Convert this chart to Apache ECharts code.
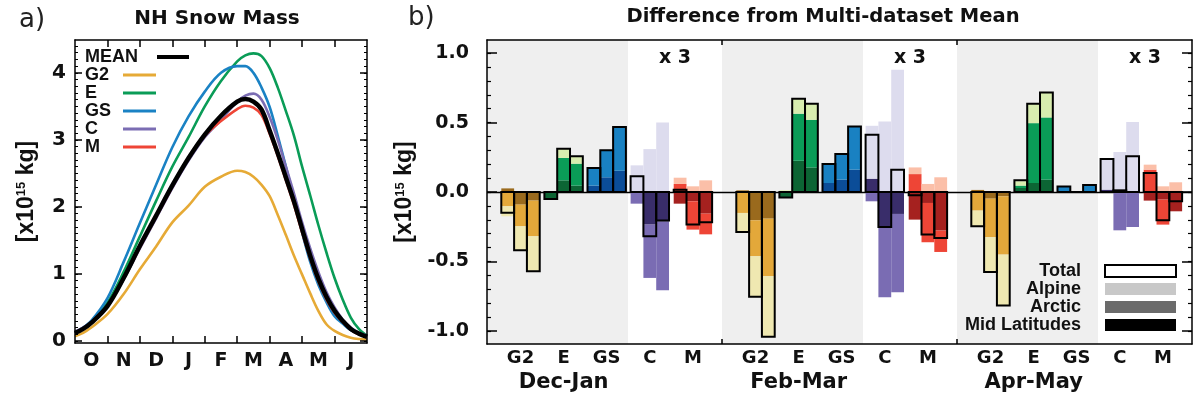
<!DOCTYPE html>
<html><head><meta charset="utf-8">
<script src="https://cdn.jsdelivr.net/npm/echarts@6/dist/echarts.min.js"></script>
<style>html,body{margin:0;padding:0;background:#fff}#c{width:1194px;height:398px}</style>
</head><body><div id="c"></div><script>
// ---------- Panel a: NH snow mass (x10^15 kg), months since 1 Oct ----------
const months = [0,0.25,0.5,1,1.5,2,2.5,3,3.5,4,4.5,5,5.25,5.5,5.75,6,6.25,6.5,6.75,7,7.25,7.5,7.75,8,8.25,8.5,8.75,9];
const monthLabels = ['O','N','D','J','F','M','A','M','J'];
const massMEAN = [0.12,0.18,0.27,0.52,0.94,1.42,1.87,2.32,2.73,3.08,3.36,3.57,3.61,3.57,3.45,3.14,2.8,2.44,2.08,1.67,1.27,0.93,0.66,0.45,0.3,0.18,0.11,0.06];
const massG2 = [0.07,0.12,0.2,0.4,0.7,1.07,1.41,1.77,2.02,2.3,2.45,2.54,2.52,2.45,2.33,2.16,1.88,1.58,1.27,0.99,0.71,0.45,0.25,0.15,0.09,0.05,0.03,0.02];
const massE = [0.12,0.18,0.28,0.57,1.03,1.56,2.09,2.6,3.04,3.5,3.88,4.17,4.26,4.29,4.25,4.07,3.78,3.43,3.06,2.6,2.17,1.73,1.32,0.94,0.62,0.35,0.18,0.08];
const massGS = [0.12,0.2,0.3,0.64,1.18,1.76,2.33,2.89,3.35,3.72,4.0,4.1,4.1,4.0,3.78,3.49,3.06,2.6,2.12,1.62,1.18,0.84,0.58,0.37,0.26,0.16,0.11,0.08];
const massC = [0.14,0.2,0.28,0.53,0.92,1.38,1.83,2.28,2.69,3.04,3.3,3.57,3.66,3.69,3.6,3.34,3.0,2.6,2.2,1.77,1.38,1.03,0.73,0.5,0.32,0.2,0.12,0.08];
const massM = [0.12,0.18,0.27,0.52,0.93,1.4,1.85,2.3,2.72,3.06,3.28,3.46,3.51,3.48,3.37,3.09,2.76,2.4,2.03,1.62,1.23,0.89,0.62,0.42,0.28,0.17,0.1,0.07];
const massTicks = [0,1,2,3,4];

// ---------- Panel b: difference from multi-dataset mean (C and M shown x3) ----------
const periods = ['Dec-Jan','Feb-Mar','Apr-May'];
const datasets = ['G2','E','GS','C','M'];
// order: period -> dataset -> 3 bars
const midLat = [
  0.026,-0.091,-0.062,  -0.05,0.084,0.046,  0.046,0.106,0.153,  0,-0.235,-0.211,  -0.084,-0.067,-0.156,
  0.012,-0.204,-0.192,  -0.038,0.225,0.177,  0.065,0.089,0.161,  0.096,-0.252,-0.158,  -0.199,-0.079,-0.278,
  0.015,-0.048,-0.031,  0.029,0.065,0.089,  0.005,0,0.005,  0.017,0,0,  -0.062,-0.055,-0.139];
const arctic = [
  -0.103,-0.156,-0.257,  0,0.161,0.158,  0.127,0.194,0.315,  -0.084,-0.384,-0.496,  0.058,-0.204,-0.149,
  -0.151,-0.259,-0.415,  0,0.339,0.343,  0.136,0.184,0.311,  -0.067,-0.506,-0.564,  0.129,-0.283,-0.154,
  -0.134,-0.278,-0.42,  0.017,0.431,0.448,  0.035,0,0.04,  0,-0.276,-0.252,  0.161,-0.18,0];
const alpine = [
  -0.072,-0.173,-0.252,  0,0.067,0.053,  0,0,0,  0.192,0.309,0.501,  0.045,0.041,0.084,
  -0.137,-0.292,-0.436,  0.012,0.107,0.115,  0,0,0,  0.381,0.508,0.88,  0.048,0.058,0.106,
  -0.113,-0.25,-0.367,  0.031,0.139,0.18,  0,0,0.01,  0.22,0.288,0.504,  0.036,0.041,0.07];
const total = [
  -0.15,-0.42,-0.571,  -0.05,0.312,0.257,  0.173,0.3,0.468,  0.113,-0.319,-0.206,  0.017,-0.235,-0.218,
  -0.288,-0.755,-1.043,  -0.04,0.671,0.635,  0.201,0.273,0.472,  0.412,-0.252,0.161,  -0.024,-0.307,-0.331,
  -0.247,-0.576,-0.818,  0.084,0.635,0.717,  0.04,0,0.05,  0.237,0.012,0.257,  0.137,-0.204,-0.067];
const diffTicks = [-1,-0.5,0,0.5,1];

// ---------- styles ----------
const lineColors = {G2:'#e6aa36', E:'#0a9c57', GS:'#1a82c4', C:'#7b6db3', M:'#ee4536'};
const darkCol  = ['#9a6a1d','#0c6534','#0b4d98','#392d6a','#a5211f'];
const medCol   = ['#e3a83a','#0a9c57','#1981c2','#7a6cb3','#ee4536'];
const lightCol = ['#efe8b1','#d8edaf','#a6d3f0','#dddcee','#fbbfa8'];
const F = 'DejaVu Sans', FL = 'Liberation Sans', TXT = '#111';

// layout within a period group, in period units (x axis 0..3)
const FIRST = 0.1426, PITCH = 0.1834, BAR_W = 0.0545, GRAY_END = 0.6;
function barX(i){ const p=Math.floor(i/15), d=Math.floor((i%15)/3), b=i%3; return p + FIRST + d*PITCH + (b-1)*BAR_W; }
const dsLabelPos = [];
periods.forEach((_,p)=>datasets.forEach((_,d)=>dsLabelPos.push(+(p+FIRST+d*PITCH).toFixed(4))));
const periodLabelPos = periods.map((_,p)=>+(p+FIRST+PITCH).toFixed(4));

// stacked segments (same-sign stacking: mid lat, arctic, alpine)
const segML=[], segAR=[], segAL=[], segTot=[];
for (let i=0;i<total.length;i++){
  let pos=0, neg=0; const x=barX(i), d=Math.floor((i%15)/3);
  [[midLat,segML],[arctic,segAR],[alpine,segAL]].forEach(([arr,seg])=>{
    const v=arr[i]; let lo,hi;
    if (v>=0){lo=pos;hi=pos+v;pos=hi;} else {hi=neg;lo=neg+v;neg=lo;}
    seg.push([x,lo,hi,d]);
  });
  segTot.push([x,0,total[i],d]);
}
function segRender(cols){
  return function(params, api){
    const x=api.value(0), lo=api.value(1), hi=api.value(2), d=api.value(3);
    const t=api.coord([x,hi]), b=api.coord([x,lo]); const w=api.size([BAR_W,0])[0];
    return {type:'rect', shape:{x:t[0]-w/2, y:t[1], width:w, height:b[1]-t[1]}, style:{fill:cols[d]}};
  };
}
function totRender(params, api){
  const x=api.value(0), v=api.value(2);
  const a=api.coord([x,0]), b=api.coord([x,v]); const w=api.size([BAR_W,0])[0];
  return {type:'rect', shape:{x:a[0]-w/2, y:Math.min(a[1],b[1]), width:w, height:Math.abs(a[1]-b[1])},
          style:{fill:'none', stroke:'#000', lineWidth:2}};
}
function range(a,b,s){const r=[];for(let k=0;a+k*s<=b+1e-9;k++) r.push(+(a+k*s).toFixed(3)); return r;}
function nearest(arr,v){let b=0; arr.forEach((x,k)=>{ if(Math.abs(x-v)<Math.abs(arr[b]-v)) b=k; }); return b;}

const axLine = {show:true, onZero:false, lineStyle:{color:'#000', width:1.5}};
const noLine = {show:false, onZero:false};
const nameStyle = {fontFamily:FL, fontWeight:'bold', fontSize:23, color:TXT,
  rich:{s:{fontFamily:FL, fontWeight:'bold', fontSize:13, lineHeight:13, verticalAlign:'top', color:TXT}}};

const A_MIN=-0.03, A_MAX=4.49, B_MIN=-1.095, B_MAX=1.095;

const option = {
  backgroundColor:'#fff',
  animation:false,
  title:[
    {text:'NH Snow Mass', left:217, top:9, textAlign:'center', padding:0, textStyle:{fontFamily:F, fontWeight:'bold', fontSize:20, color:TXT}},
    {text:'Difference from Multi-dataset Mean', left:823, top:7, textAlign:'center', padding:0, textStyle:{fontFamily:F, fontWeight:'bold', fontSize:19.5, color:TXT}},
    {text:'a)', left:19, top:7, padding:0, textStyle:{fontFamily:F, fontWeight:'normal', fontSize:26, color:'#222'}},
    {text:'b)', left:408, top:5, padding:0, textStyle:{fontFamily:F, fontWeight:'normal', fontSize:26, color:'#222'}}
  ],
  legend:[
    {data:['MEAN'], left:85, top:48, padding:0, align:'right', icon:'rect', itemWidth:32, itemHeight:4, selectedMode:false,
     formatter:n=>'{t|'+n+'}', textStyle:{rich:{t:{width:67, align:'left', fontFamily:FL, fontWeight:'bold', fontSize:18, lineHeight:18, color:TXT}}}},
    {data:['G2','E','GS','C','M'], orient:'vertical', left:85, top:66, padding:0, itemGap:0, align:'right', icon:'rect', itemWidth:33, itemHeight:3, selectedMode:false,
     formatter:n=>'{t|'+n+'}', textStyle:{rich:{t:{width:33, align:'left', fontFamily:FL, fontWeight:'bold', fontSize:18, lineHeight:17.6, color:TXT}}}},
    {data:[{name:'Total', itemStyle:{color:'#fff', borderColor:'#000', borderWidth:2}},
           {name:'Alpine', itemStyle:{color:'#c8c8c8', borderWidth:0}},
           {name:'Arctic', itemStyle:{color:'#6b6b6b', borderWidth:0}},
           {name:'Mid Latitudes', itemStyle:{color:'#000', borderWidth:0}}],
     orient:'vertical', left:939, top:262, padding:0, itemGap:0, align:'right', icon:'rect', itemWidth:71, itemHeight:12, selectedMode:false,
     formatter:n=>'{t|'+n+'}', textStyle:{rich:{t:{width:142, padding:[0,19,0,0], align:'right', fontFamily:FL, fontWeight:'bold', fontSize:18, lineHeight:18.7, color:TXT}}}}
  ],
  grid:[
    {left:75, right:827, top:40, bottom:55},
    {left:487, right:2, top:40, bottom:54}
  ],
  xAxis:[
    {gridIndex:0, type:'value', min:0, max:9, position:'bottom', z:10, axisLine:axLine, splitLine:{show:false},
     axisTick:{show:true, inside:true, length:7, customValues:[1,2,3,4,5,6,7,8], lineStyle:{color:'#000', width:1.5}},
     axisLabel:{customValues:range(0.5,8.5,1), formatter:v=>monthLabels[Math.floor(v)], margin:9, fontFamily:F, fontWeight:'bold', fontSize:19, color:TXT}},
    {gridIndex:0, type:'value', min:0, max:9, position:'top', z:10, axisLine:axLine, splitLine:{show:false},
     axisTick:{show:true, inside:true, length:7, customValues:[1,2,3,4,5,6,7,8], lineStyle:{color:'#000', width:1.5}},
     axisLabel:{show:false}},
    {gridIndex:1, type:'value', min:0, max:3, position:'bottom', z:10, axisLine:axLine, splitLine:{show:false},
     axisTick:{show:true, inside:true, length:5, customValues:[1,2], lineStyle:{color:'#000', width:1.5}},
     axisLabel:{customValues:dsLabelPos, margin:5, fontFamily:F, fontWeight:'bold', fontSize:18, color:TXT,
       formatter:v=>datasets[nearest(dsLabelPos,v)%5]}},
    {gridIndex:1, type:'value', min:0, max:3, position:'bottom', axisLine:noLine, splitLine:{show:false}, axisTick:{show:false},
     axisLabel:{customValues:periodLabelPos, formatter:v=>periods[nearest(periodLabelPos,v)], margin:28, fontFamily:F, fontWeight:'bold', fontSize:21, color:TXT}},
    {gridIndex:1, type:'value', min:0, max:3, position:'top', z:10, axisLine:axLine, splitLine:{show:false},
     axisTick:{show:true, inside:true, length:5, customValues:[1,2], lineStyle:{color:'#000', width:1.5}},
     axisLabel:{show:false}}
  ],
  yAxis:[
    {gridIndex:0, type:'value', min:A_MIN, max:A_MAX, position:'left', z:10, axisLine:axLine, splitLine:{show:false},
     axisTick:{show:true, inside:true, length:7, customValues:massTicks, lineStyle:{color:'#000', width:1.5}},
     axisLabel:{customValues:massTicks, margin:9, fontFamily:F, fontWeight:'bold', fontSize:20, color:TXT},
     name:'[x10{s|15} kg]', nameLocation:'middle', nameGap:37, nameRotate:90, nameTextStyle:nameStyle},
    {gridIndex:0, type:'value', min:A_MIN, max:A_MAX, position:'left', z:10, axisLine:noLine, splitLine:{show:false},
     axisTick:{show:true, inside:true, length:3, customValues:range(0,4.4,0.1), lineStyle:{color:'#000', width:1}}, axisLabel:{show:false}},
    {gridIndex:0, type:'value', min:A_MIN, max:A_MAX, position:'right', z:10, axisLine:axLine, splitLine:{show:false},
     axisTick:{show:true, inside:true, length:7, customValues:massTicks, lineStyle:{color:'#000', width:1.5}}, axisLabel:{show:false}},
    {gridIndex:0, type:'value', min:A_MIN, max:A_MAX, position:'right', z:10, axisLine:noLine, splitLine:{show:false},
     axisTick:{show:true, inside:true, length:3, customValues:range(0,4.4,0.1), lineStyle:{color:'#000', width:1}}, axisLabel:{show:false}},
    {gridIndex:1, type:'value', min:B_MIN, max:B_MAX, position:'left', z:10, axisLine:axLine, splitLine:{show:false},
     axisTick:{show:true, inside:true, length:10, customValues:diffTicks, lineStyle:{color:'#000', width:1.5}},
     axisLabel:{customValues:diffTicks, formatter:v=>v.toFixed(1), margin:18, fontFamily:F, fontWeight:'bold', fontSize:19, color:TXT},
     name:'[x10{s|15} kg]', nameLocation:'middle', nameGap:57, nameRotate:90, nameTextStyle:nameStyle},
    {gridIndex:1, type:'value', min:B_MIN, max:B_MAX, position:'left', z:10, axisLine:noLine, splitLine:{show:false},
     axisTick:{show:true, inside:true, length:4, customValues:range(-1,1,0.1), lineStyle:{color:'#000', width:1.2}}, axisLabel:{show:false}},
    {gridIndex:1, type:'value', min:B_MIN, max:B_MAX, position:'right', z:10, axisLine:axLine, splitLine:{show:false},
     axisTick:{show:true, inside:true, length:10, customValues:diffTicks, lineStyle:{color:'#000', width:1.5}}, axisLabel:{show:false}},
    {gridIndex:1, type:'value', min:B_MIN, max:B_MAX, position:'right', z:10, axisLine:noLine, splitLine:{show:false},
     axisTick:{show:true, inside:true, length:4, customValues:range(-1,1,0.1), lineStyle:{color:'#000', width:1.2}}, axisLabel:{show:false}}
  ],
  series:[]
};

// panel a lines
[['G2',massG2],['E',massE],['GS',massGS],['C',massC],['M',massM]].forEach(([n,arr])=>{
  option.series.push({name:n, type:'line', xAxisIndex:0, yAxisIndex:0, showSymbol:false, smooth:0.35, z:3,
    data:months.map((m,k)=>[m,arr[k]]), itemStyle:{color:lineColors[n]}, lineStyle:{color:lineColors[n], width:2.6}});
});
option.series.push({name:'MEAN', type:'line', xAxisIndex:0, yAxisIndex:0, showSymbol:false, smooth:0.35, z:4,
  data:months.map((m,k)=>[m,massMEAN[k]]), itemStyle:{color:'#000'}, lineStyle:{color:'#000', width:4.5}});

// panel b background areas, x3 labels, zero line
const areas=[];
periods.forEach((_,p)=>{
  areas.push([{xAxis:p, itemStyle:{color:'#efefef'}}, {xAxis:p+GRAY_END}]);
  areas.push([{xAxis:p+GRAY_END, itemStyle:{color:'rgba(0,0,0,0)'},
    label:{show:true, position:'insideTop', distance:9, formatter:'x 3', fontFamily:F, fontWeight:'bold', fontSize:19, color:TXT}}, {xAxis:p+1}]);
});
option.series.push({name:'bg', type:'line', xAxisIndex:2, yAxisIndex:4, data:[], z:1, silent:true,
  markArea:{silent:true, data:areas},
  markLine:{silent:true, symbol:'none', label:{show:false}, lineStyle:{color:'#000', width:1.3, type:'solid'}, data:[{yAxis:0}]}});

option.series.push({name:'Mid Latitudes', type:'custom', xAxisIndex:2, yAxisIndex:4, z:5, itemStyle:{color:'#000'},
  encode:{x:0, y:[1,2]}, data:segML, renderItem:segRender(darkCol)});
option.series.push({name:'Arctic', type:'custom', xAxisIndex:2, yAxisIndex:4, z:5, itemStyle:{color:'#6b6b6b'},
  encode:{x:0, y:[1,2]}, data:segAR, renderItem:segRender(medCol)});
option.series.push({name:'Alpine', type:'custom', xAxisIndex:2, yAxisIndex:4, z:5, itemStyle:{color:'#c8c8c8'},
  encode:{x:0, y:[1,2]}, data:segAL, renderItem:segRender(lightCol)});
option.series.push({name:'Total', type:'custom', xAxisIndex:2, yAxisIndex:4, z:6, itemStyle:{color:'#fff', borderColor:'#000'},
  encode:{x:0, y:[1,2]}, data:segTot, renderItem:totRender});

echarts.init(document.getElementById('c')).setOption(option);
</script></body></html>
